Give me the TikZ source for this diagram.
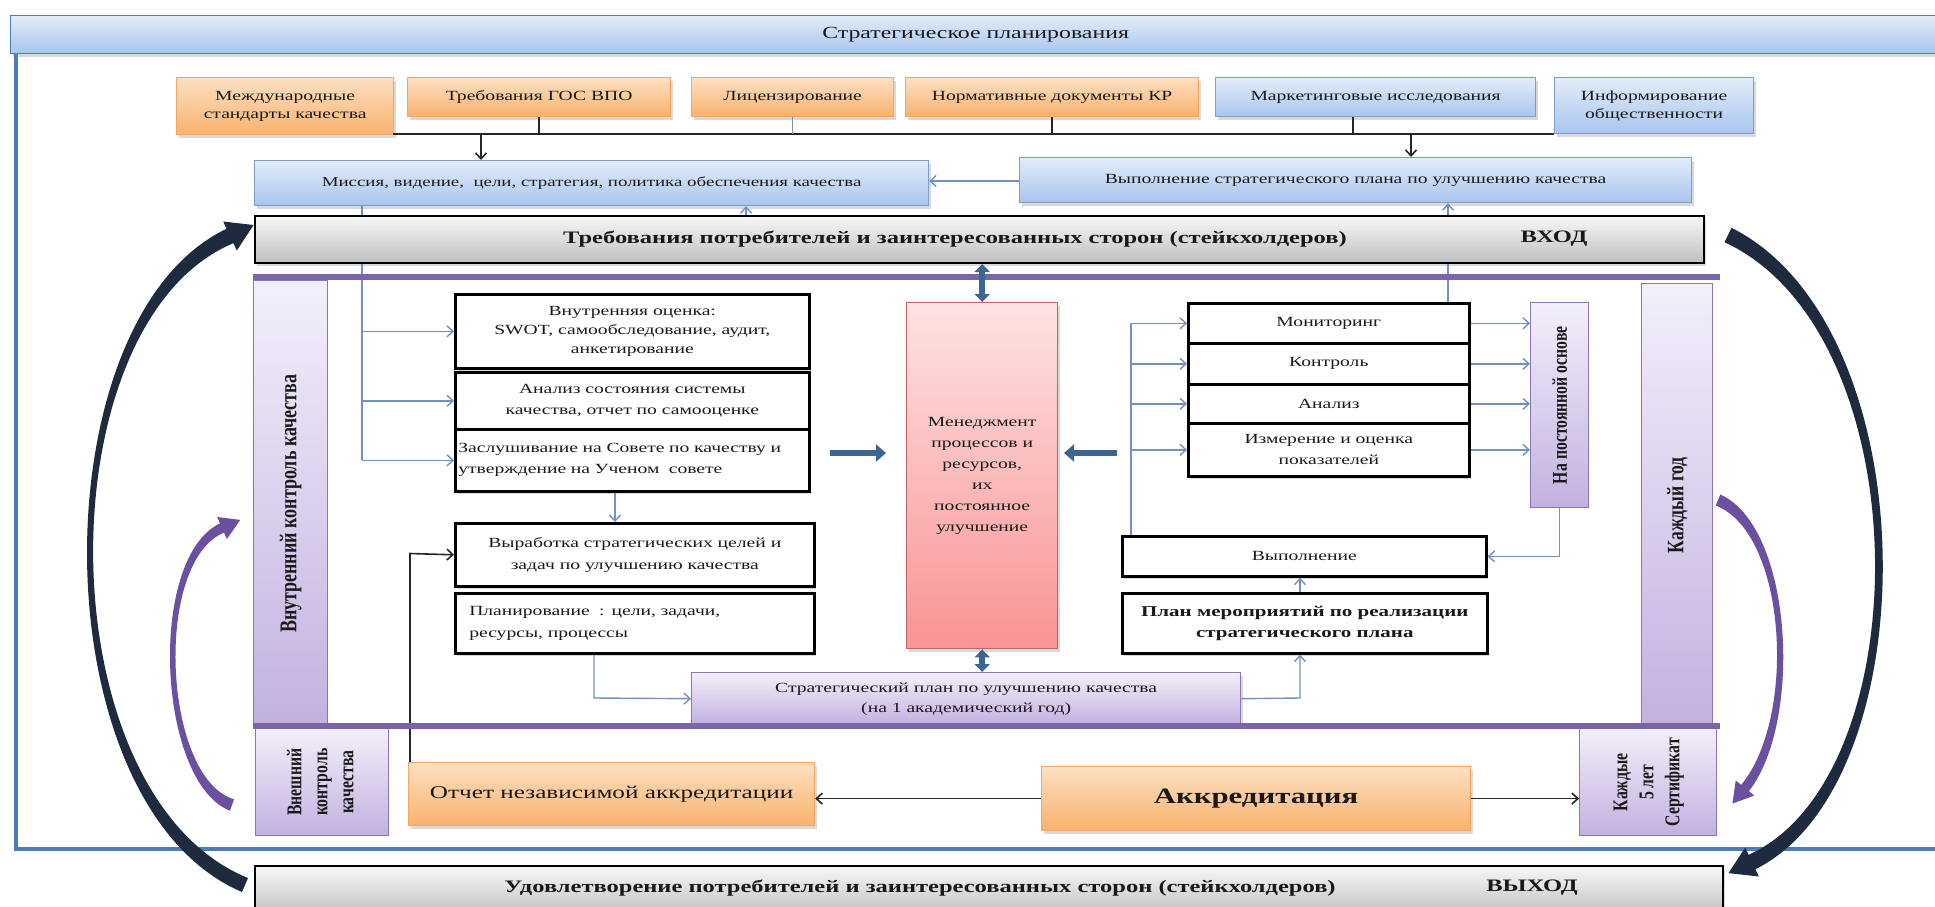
\documentclass[tikz,border=0pt]{standalone}
\usepackage{fontspec}
\setmainfont{Liberation Serif}[FakeStretch=1.4]
\newfontfamily\rotf{Liberation Serif}[FakeStretch=0.75]
\usepackage{graphicx}
\usetikzlibrary{arrows.meta,shadows}
\pgfdeclarelayer{bg}
\pgfsetlayers{bg,main}
\definecolor{orT}{HTML}{FDE0C2}
\definecolor{orB}{HTML}{F8B26E}
\definecolor{orD}{HTML}{F2A863}
\definecolor{blT}{HTML}{E2ECFA}
\definecolor{blB}{HTML}{A9C5ED}
\definecolor{blD}{HTML}{7E9DCB}
\definecolor{puT}{HTML}{F3EFFA}
\definecolor{puB}{HTML}{C2B1E0}
\definecolor{puD}{HTML}{8A75B6}
\definecolor{puL}{HTML}{7B64A8}
\definecolor{reT}{HTML}{FDE2E2}
\definecolor{reB}{HTML}{F99494}
\definecolor{reD}{HTML}{C0645F}
\definecolor{cn}{HTML}{7391BD}
\definecolor{thk}{HTML}{3D6593}
\definecolor{frm}{HTML}{4A7EBB}
\definecolor{arcD}{HTML}{1E2B3E}
\definecolor{arcP}{HTML}{6B4FA0}
\begin{document}
\begin{tikzpicture}[x=1pt,y=-1pt,
  bx/.style={anchor=north west, inner sep=2pt, align=center, text=black!90, font=\fontsize{14}{18}\selectfont},
  shd/.style={drop shadow={shadow xshift=2pt,shadow yshift=-3pt,opacity=0.3}},
  obox/.style={bx, shd, draw=orD, line width=1.2pt, top color=orT, bottom color=orB},
  bbox/.style={bx, shd, draw=blD, line width=1.2pt, top color=blT, bottom color=blB},
  gbox/.style={anchor=north west, shd, draw=black, line width=2pt, top color=black!3, bottom color=black!25},
  pbox/.style={bx, draw=puD, line width=1.4pt, top color=puT, bottom color=puB, font=\rotf\bfseries\fontsize{21}{26}\selectfont},
  kbox/.style={bx, shd, draw=black, line width=2.6pt, fill=white},
  rbox/.style={bx, shd, draw=reD, line width=1.4pt, top color=reT, bottom color=reB},
  conn/.style={draw=cn, line width=1.4pt},
  arr/.style={conn, -{Straight Barb[length=6pt,width=11pt]}},
  blk/.style={draw=black!85, line width=1.6pt},
  blkarr/.style={blk, -{Straight Barb[length=6pt,width=11pt]}},
  dbl/.style={draw=thk, line width=6pt, {Triangle[length=8pt,width=15pt]}-{Triangle[length=8pt,width=15pt]}},
  tharr/.style={draw=thk, line width=6pt, -{Triangle[length=10pt,width=17pt]}},
  lbl/.style={font=\bfseries\fontsize{17.5}{20}\selectfont, text=black!90}
]
\useasboundingbox (0,0) rectangle (1935,906);

% top bar
\node[bbox, draw=frm, minimum width=1930pt, minimum height=38pt, font=\fontsize{17}{20}\selectfont] (top) at (10,15) {Стратегическое планирования};

% first row
\node[obox, minimum width=217pt, minimum height=57pt] (o1) at (176,77) {Международные\\стандарты качества};
\node[obox, minimum width=263pt, minimum height=39pt] (o2) at (407,77) {Требования ГОС ВПО};
\node[obox, minimum width=202pt, minimum height=39pt] (o3) at (691,77) {Лицензирование};
\node[obox, minimum width=293pt, minimum height=39pt] (o4) at (905,77) {Нормативные документы КР};
\node[bbox, minimum width=320pt, minimum height=39pt] (b5) at (1215,77) {Маркетинговые исследования};
\node[bbox, minimum width=199pt, minimum height=56pt] (b6) at (1554,77) {Информирование\\общественности};

\node[bbox, minimum width=674pt, minimum height=45pt, font=\fontsize{13.5}{17}\selectfont] (mis) at (254,160) {Миссия, видение,~ цели, стратегия, политика обеспечения качества};
\node[bbox, minimum width=672pt, minimum height=45pt] (vsp) at (1019,157) {Выполнение стратегического плана по улучшению качества};

% gray input bar
\node[gbox, minimum width=1449pt, minimum height=47pt] (gin) at (254,215) {};
\node[lbl] (gint) at (955,239) {Требования потребителей и заинтересованных сторон (стейкхолдеров)};
\node[lbl] (vhod) at (1554,239) {ВХОД};

% side columns
\node[pbox, minimum width=74pt, minimum height=446pt, font=\rotf\bfseries\fontsize{24}{28}\selectfont] (lc) at (253,280) {\rotatebox{90}{Внутренний контроль качества}};
\node[pbox, minimum width=71pt, minimum height=443pt, font=\rotf\bfseries\fontsize{23.5}{28}\selectfont] (rc) at (1641,283) {\rotatebox{90}{Каждый год}};
\node[pbox, minimum width=133pt, minimum height=107pt] (vk) at (255,728) {\rotatebox{90}{\begin{tabular}{@{}c@{}}Внешний\\контроль\\качества\end{tabular}}};
\node[pbox, minimum width=137pt, minimum height=107pt] (k5) at (1579,728) {\rotatebox{90}{\begin{tabular}{@{}c@{}}Каждые\\5 лет\\Сертификат\end{tabular}}};

% left group
\node[kbox, minimum width=354pt, minimum height=74pt, font=\fontsize{14}{19}\selectfont] (A) at (454,293) {Внутренняя оценка:\\SWOT, самообследование, аудит,\\анкетирование};
\node[kbox, minimum width=354pt, minimum height=57pt, font=\fontsize{14}{21}\selectfont] (B) at (454,371) {Анализ состояния системы\\качества, отчет по самооценке};
\node[kbox, minimum width=354pt, minimum height=62pt, align=left, text width=348pt, font=\fontsize{14}{21}\selectfont] (C) at (454,428) {Заслушивание на Совете по качеству и\\утверждение на Ученом~ совете};
\node[kbox, minimum width=359pt, minimum height=63pt, font=\fontsize{14}{22}\selectfont] (D) at (454,522) {Выработка стратегических целей и\\задач по улучшению качества};
\node[kbox, minimum width=359pt, minimum height=60pt, align=left, inner xsep=14pt, text width=331pt, font=\fontsize{14}{22}\selectfont] (E) at (454,592) {Планирование~ : цели, задачи,\\ресурсы, процессы};

% center
\node[rbox, minimum width=151pt, minimum height=346pt, font=\fontsize{14}{21}\selectfont] (red) at (906,302) {Менеджмент\\процессов и\\ресурсов,\\их\\постоянное\\улучшение};
\node[bx, draw=puD, line width=1.4pt, top color=puT, bottom color=puB, shd, minimum width=549pt, minimum height=52pt, font=\fontsize{14}{20}\selectfont] (sp) at (691,672) {Стратегический план по улучшению качества\\(на 1 академический год)};

% right group
\node[kbox, minimum width=281pt, minimum height=40pt] (mon) at (1187,302) {Мониторинг};
\node[kbox, minimum width=281pt, minimum height=41pt] (kon) at (1187,342) {Контроль};
\node[kbox, minimum width=281pt, minimum height=39pt] (ana) at (1187,383) {Анализ};
\node[kbox, minimum width=281pt, minimum height=53pt, font=\fontsize{14}{21}\selectfont] (izm) at (1187,422) {Измерение и оценка\\показателей};
\node[kbox, minimum width=364pt, minimum height=40pt] (vyp) at (1121,535) {Выполнение};
\node[kbox, minimum width=365pt, minimum height=60pt, font=\bfseries\fontsize{15}{21}\selectfont] (plan) at (1121,592) {План мероприятий по реализации\\стратегического плана};
\node[pbox, minimum width=58pt, minimum height=205pt] (npo) at (1530,302) {\rotatebox{90}{На постоянной основе}};

% bottom
\node[obox, minimum width=406pt, minimum height=63pt, font=\fontsize{18}{22}\selectfont] (otch) at (408,762) {Отчет независимой аккредитации};
\node[obox, minimum width=429pt, minimum height=64pt, font=\bfseries\fontsize{22}{26}\selectfont] (akk) at (1041,766) {Аккредитация};
\node[gbox, minimum width=1468pt, minimum height=50pt] (gout) at (254,865) {};
\node[lbl] (goutt) at (920,888) {Удовлетворение потребителей и заинтересованных сторон (стейкхолдеров)};
\node[lbl] (vyhod) at (1532,888) {ВЫХОД};

% coordinates
\coordinate (hlL) at (393,134);
\coordinate (hlR) at (1554,134);
\coordinate (v5) at (1353,134);
\coordinate (m1) at (481,134);
\coordinate (m2) at (1411,134);
\coordinate (u1) at (746,0);
\coordinate (u2) at (1448,0);
\coordinate (lv) at (362,0);
\coordinate (rv) at (1131,0);
\coordinate (bl) at (410,553.5);
\coordinate (es) at (594,698);
\coordinate (sr) at (1300,698);
\coordinate (cd) at (615,0);
\coordinate (ta1) at (830,453);
\coordinate (ta2) at (886,453);
\coordinate (tb1) at (1117,453);
\coordinate (tb2) at (1064,453);

\begin{pgfonlayer}{bg}
  \draw[frm, line width=4pt] (16,53) -- (16,849) -- (1940,849);
  \draw[conn] (lv |- mis.south) -- (lv |- C.west);
  \draw[arr] (u2 |- mon.north) -- (u2 |- vsp.south);
\end{pgfonlayer}

% top connectors
\draw[blk] (hlL) -- (hlR);
\draw[blk] (o2.south) -- (o2.south |- hlL);
\draw[conn] (o3.south) -- (o3.south |- hlL);
\draw[blk] (o4.south) -- (o4.south |- hlL);
\draw[blk] (v5 |- b5.south) -- (v5);
\draw[blkarr] (m1) -- (m1 |- mis.north);
\draw[blkarr] (m2) -- (m2 |- vsp.north);
\draw[arr] (vsp.west |- 0,181) -- (mis.east |- 0,181);
\draw[arr] (u1 |- gin.north) -- (u1 |- mis.south);

% left group connectors
\draw[arr] (lv |- A.west) -- (A.west);
\draw[arr] (lv |- B.west) -- (B.west);
\draw[arr] (lv |- C.west) -- (C.west);
\draw[arr] (cd |- C.south) -- (cd |- D.north);
\draw[blkarr] (bl |- otch.north) -- (bl) -- (D.west);
\draw[arr] (es |- E.south) -- (es) -- (sp.west);
\draw[arr] (sp.east) -- (sr) -- (sr |- plan.south);
\draw[arr] (sr |- plan.north) -- (sr |- vyp.south);

% right group connectors
\draw[conn] (rv |- vyp.north) -- (rv |- mon.west);
\draw[arr] (rv |- mon.west) -- (mon.west);
\draw[arr] (rv |- kon.west) -- (kon.west);
\draw[arr] (rv |- ana.west) -- (ana.west);
\draw[arr] (rv |- izm.west) -- (izm.west);
\draw[arr] (mon.east) -- (mon.east -| npo.west);
\draw[arr] (kon.east) -- (kon.east -| npo.west);
\draw[arr] (ana.east) -- (ana.east -| npo.west);
\draw[arr] (izm.east) -- (izm.east -| npo.west);
\draw[arr] (npo.south) -- (npo.south |- vyp.east) -- (vyp.east);

% bottom connectors
\draw[blkarr] (akk.west) -- (otch.east |- akk.west);
\draw[blkarr] (akk.east) -- (k5.west |- akk.east);

% inner purple frame lines
\draw[puL, line width=6pt] (253,277) -- (1720,277);
\draw[puL, line width=6pt] (253,726) -- (1720,726);

% thick arrows
\draw[dbl] (red.north |- gin.south) -- (red.north);
\draw[dbl] (red.south) -- (red.south |- sp.north);
\draw[tharr] (ta1) -- (ta2);
\draw[tharr] (tb1) -- (tb2);

% big cycle arcs
\fill[arcD] (242,892) .. controls (38,805) and (38,318) .. (226.6,228.8) -- (223.2,221.5) -- (253.6,225) -- (236.8,250.5) -- (233.4,243.2) .. controls (44,322) and (44,795) .. (248,878) -- cycle;
\fill[arcD] (1731.5,227.8) .. controls (1929,327) and (1929,783) .. (1755.4,869.2) -- (1758.8,876.5) -- (1728.5,873.1) -- (1745.2,847.5) -- (1748.6,854.8) .. controls (1921,777) and (1921,333) .. (1724.5,242.2) -- cycle;
% purple arcs
\fill[arcP] (230,810.7) .. controls (157,782) and (147,558) .. (220,523.4) -- (217.1,517) -- (240.3,519.9) -- (226.9,539) -- (224,532.6) .. controls (153,562) and (163,778) .. (234,799.3) -- cycle;
\fill[arcP] (1720.3,494.5) .. controls (1793,527) and (1803,722) .. (1748.9,791.1) -- (1754.3,795.5) -- (1732.4,803.6) -- (1735.7,780.5) -- (1741.1,784.9) .. controls (1797,718) and (1787,533) .. (1715.7,505.5) -- cycle;
\end{tikzpicture}
\end{document}
